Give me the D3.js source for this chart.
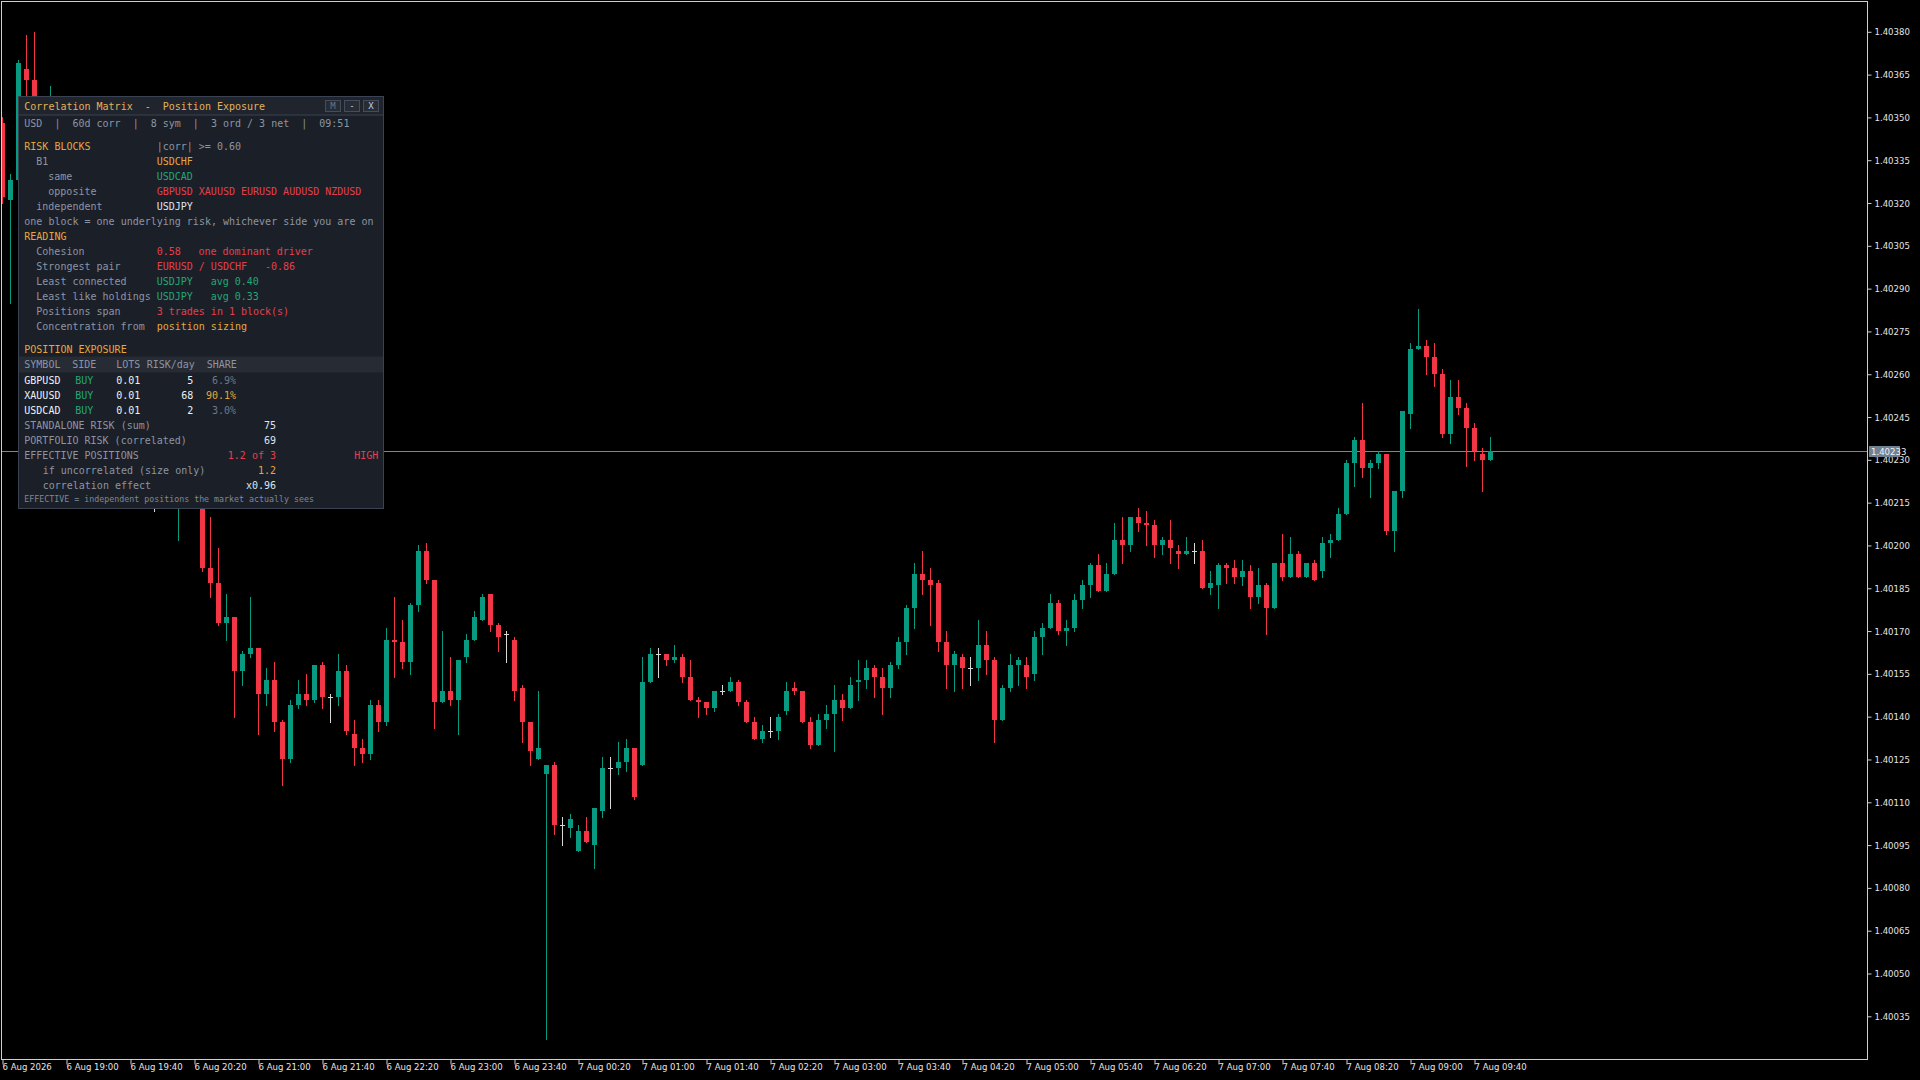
<!DOCTYPE html>
<html>
<head>
<meta charset="utf-8">
<script src="https://cdn.jsdelivr.net/npm/d3@7"></script>
<style>
  body { margin: 0; background: #000; }
  svg { display: block; }
  .mono { font-family: "DejaVu Sans Mono", "Liberation Mono", monospace; white-space: pre; }
  .axis text { font-family: "Liberation Sans Narrow", "DejaVu Sans Condensed", "Liberation Sans", sans-serif; }
</style>
</head>
<body>
<script>
// 5 minute candles, 6 Aug 18:20 -> 7 Aug 09:50
var opens = [1.40348,1.40321,1.40328,1.40367,1.40363,1.40335,1.40322,1.40345,1.40330,1.40310,
  1.40300,1.40312,1.40288,1.40276,1.40285,1.40262,1.40250,1.40262,1.40240,1.40222,
  1.40222,1.40216,1.40228,1.40240,1.40226,1.40219,1.40192,1.40187,1.40173,1.40175,
  1.40156,1.40162,1.40164,1.40148,1.40153,1.40138,1.40125,1.40144,1.40148,1.40146,
  1.40158,1.40147,1.40147,1.40156,1.40134,1.40129,1.40127,1.40144,1.40138,1.40167,
  1.40166,1.40159,1.40179,1.40198,1.40188,1.40145,1.40149,1.40146,1.40161,1.40167,
  1.40174,1.40183,1.40172,1.40169,1.40167,1.40150,1.40138,1.40125,1.40120,1.40123,
  1.40102,1.40101,1.40093,1.40100,1.40095,1.40107,1.40122,1.40122,1.40124,1.40129,
  1.40123,1.40152,1.40162,1.40162,1.40160,1.40161,1.40154,1.40146,1.40145,1.40143,
  1.40149,1.40149,1.40152,1.40145,1.40138,1.40132,1.40135,1.40135,1.40142,1.40150,
  1.40149,1.40138,1.40130,1.40139,1.40141,1.40146,1.40143,1.40152,1.40153,1.40157,
  1.40154,1.40150,1.40158,1.40166,1.40178,1.40190,1.40188,1.40187,1.40166,1.40158,
  1.40161,1.40157,1.40157,1.40165,1.40160,1.40139,1.40150,1.40158,1.40158,1.40155,
  1.40168,1.40171,1.40180,1.40170,1.40171,1.40181,1.40186,1.40193,1.40184,1.40190,
  1.40202,1.40200,1.40210,1.40208,1.40207,1.40200,1.40202,1.40198,1.40197,1.40198,
  1.40198,1.40185,1.40186,1.40193,1.40192,1.40189,1.40191,1.40182,1.40186,1.40178,
  1.40194,1.40189,1.40197,1.40189,1.40194,1.40191,1.40201,1.40202,1.40211,1.40229,
  1.40237,1.40227,1.40229,1.40232,1.40205,1.40219,1.40246,1.40269,1.40270,1.40266,
  1.40260,1.40239,1.40252,1.40248,1.40241,1.40232,1.40230];
var highs = [1.40350,1.40330,1.40370,1.40379,1.40380,1.40340,1.40361,1.40350,1.40336,1.40318,
  1.40316,1.40315,1.40292,1.40290,1.40288,1.40266,1.40268,1.40264,1.40245,1.40228,
  1.40226,1.40232,1.40245,1.40244,1.40230,1.40224,1.40210,1.40199,1.40183,1.40175,
  1.40163,1.40182,1.40164,1.40157,1.40159,1.40139,1.40146,1.40153,1.40155,1.40158,
  1.40159,1.40148,1.40162,1.40158,1.40139,1.40132,1.40146,1.40146,1.40171,1.40182,
  1.40174,1.40180,1.40200,1.40201,1.40188,1.40170,1.40161,1.40160,1.40169,1.40177,
  1.40183,1.40183,1.40173,1.40170,1.40168,1.40151,1.40138,1.40149,1.40123,1.40124,
  1.40105,1.40106,1.40102,1.40105,1.40108,1.40126,1.40126,1.40131,1.40132,1.40129,
  1.40161,1.40164,1.40164,1.40162,1.40165,1.40162,1.40160,1.40147,1.40145,1.40149,
  1.40151,1.40154,1.40153,1.40146,1.40140,1.40137,1.40140,1.40141,1.40152,1.40152,
  1.40149,1.40140,1.40141,1.40144,1.40151,1.40148,1.40154,1.40160,1.40160,1.40158,
  1.40157,1.40159,1.40168,1.40179,1.40194,1.40198,1.40192,1.40188,1.40170,1.40163,
  1.40162,1.40161,1.40174,1.40170,1.40161,1.40151,1.40162,1.40161,1.40161,1.40170,
  1.40173,1.40183,1.40181,1.40174,1.40183,1.40188,1.40194,1.40197,1.40194,1.40208,
  1.40210,1.40210,1.40213,1.40212,1.40209,1.40203,1.40209,1.40200,1.40203,1.40201,
  1.40202,1.40191,1.40194,1.40194,1.40195,1.40195,1.40193,1.40192,1.40187,1.40194,
  1.40204,1.40203,1.40198,1.40194,1.40195,1.40203,1.40204,1.40213,1.40230,1.40238,
  1.40250,1.40230,1.40233,1.40232,1.40219,1.40247,1.40271,1.40283,1.40272,1.40271,
  1.40262,1.40258,1.40258,1.40250,1.40243,1.40234,1.40238];
var lows = [1.40320,1.40285,1.40320,1.40352,1.40330,1.40318,1.40318,1.40325,1.40305,1.40296,
  1.40295,1.40284,1.40270,1.40272,1.40258,1.40245,1.40246,1.40238,1.40225,1.40212,
  1.40215,1.40214,1.40202,1.40222,1.40216,1.40191,1.40182,1.40172,1.40167,1.40140,
  1.40151,1.40161,1.40134,1.40144,1.40135,1.40116,1.40124,1.40143,1.40144,1.40145,
  1.40143,1.40138,1.40144,1.40134,1.40123,1.40124,1.40125,1.40135,1.40137,1.40154,
  1.40157,1.40155,1.40177,1.40187,1.40136,1.40145,1.40144,1.40134,1.40159,1.40167,
  1.40174,1.40170,1.40163,1.40159,1.40146,1.40131,1.40123,1.40125,1.40027,1.40099,
  1.40095,1.40098,1.40093,1.40096,1.40087,1.40105,1.40108,1.40120,1.40121,1.40111,
  1.40123,1.40152,1.40154,1.40158,1.40159,1.40152,1.40146,1.40140,1.40141,1.40142,
  1.40148,1.40149,1.40144,1.40138,1.40132,1.40131,1.40133,1.40132,1.40141,1.40148,
  1.40138,1.40129,1.40130,1.40136,1.40128,1.40139,1.40143,1.40146,1.40150,1.40147,
  1.40141,1.40147,1.40157,1.40162,1.40171,1.40183,1.40172,1.40163,1.40150,1.40149,
  1.40150,1.40151,1.40153,1.40155,1.40131,1.40139,1.40149,1.40151,1.40150,1.40153,
  1.40162,1.40171,1.40169,1.40165,1.40170,1.40178,1.40182,1.40184,1.40184,1.40190,
  1.40194,1.40198,1.40205,1.40200,1.40196,1.40197,1.40194,1.40192,1.40197,1.40194,
  1.40185,1.40183,1.40178,1.40187,1.40187,1.40186,1.40178,1.40180,1.40169,1.40178,
  1.40188,1.40189,1.40189,1.40189,1.40188,1.40189,1.40196,1.40202,1.40211,1.40221,
  1.40224,1.40217,1.40227,1.40204,1.40198,1.40217,1.40241,1.40269,1.40260,1.40256,
  1.40238,1.40236,1.40246,1.40228,1.40230,1.40219,1.40230];
var closes = [1.40322,1.40328,1.40369,1.40363,1.40335,1.40322,1.40345,1.40330,1.40310,1.40300,
  1.40312,1.40288,1.40276,1.40285,1.40262,1.40250,1.40262,1.40240,1.40228,1.40222,
  1.40216,1.40230,1.40240,1.40226,1.40220,1.40192,1.40187,1.40173,1.40175,1.40156,
  1.40162,1.40164,1.40148,1.40153,1.40138,1.40125,1.40144,1.40148,1.40146,1.40158,
  1.40147,1.40147,1.40156,1.40135,1.40129,1.40127,1.40144,1.40138,1.40167,1.40166,
  1.40159,1.40179,1.40198,1.40188,1.40145,1.40149,1.40146,1.40160,1.40167,1.40175,
  1.40182,1.40172,1.40168,1.40169,1.40149,1.40138,1.40128,1.40129,1.40123,1.40102,
  1.40102,1.40104,1.40100,1.40096,1.40108,1.40122,1.40122,1.40124,1.40129,1.40112,
  1.40152,1.40162,1.40162,1.40160,1.40161,1.40154,1.40146,1.40145,1.40143,1.40149,
  1.40149,1.40152,1.40145,1.40138,1.40132,1.40135,1.40135,1.40140,1.40149,1.40149,
  1.40138,1.40130,1.40139,1.40141,1.40146,1.40143,1.40151,1.40153,1.40157,1.40154,
  1.40150,1.40158,1.40166,1.40178,1.40190,1.40188,1.40186,1.40166,1.40158,1.40162,
  1.40157,1.40157,1.40165,1.40160,1.40139,1.40150,1.40158,1.40160,1.40154,1.40168,
  1.40171,1.40180,1.40170,1.40171,1.40181,1.40186,1.40193,1.40184,1.40190,1.40202,
  1.40200,1.40210,1.40208,1.40207,1.40200,1.40202,1.40199,1.40197,1.40198,1.40198,
  1.40185,1.40187,1.40193,1.40192,1.40189,1.40191,1.40182,1.40186,1.40178,1.40194,
  1.40189,1.40197,1.40189,1.40194,1.40188,1.40201,1.40202,1.40211,1.40229,1.40237,
  1.40227,1.40229,1.40232,1.40205,1.40219,1.40247,1.40269,1.40270,1.40266,1.40260,
  1.40239,1.40252,1.40248,1.40241,1.40233,1.40230,1.40233];

var priceTicks = [1.40380,1.40365,1.40350,1.40335,1.40320,1.40305,1.40290,1.40275,1.40260,1.40245,
  1.40230,1.40215,1.40200,1.40185,1.40170,1.40155,1.40140,1.40125,1.40110,1.40095,
  1.40080,1.40065,1.40050,1.40035];
var timeTickIndex = [0,8,16,24,32,40,48,56,64,72,80,88,96,104,112,120,128,136,144,152,160,168,176,184];
var timeLabels = ["6 Aug 2026","6 Aug 19:00","6 Aug 19:40","6 Aug 20:20","6 Aug 21:00","6 Aug 21:40",
  "6 Aug 22:20","6 Aug 23:00","6 Aug 23:40","7 Aug 00:20","7 Aug 01:00","7 Aug 01:40","7 Aug 02:20",
  "7 Aug 03:00","7 Aug 03:40","7 Aug 04:20","7 Aug 05:00","7 Aug 05:40","7 Aug 06:20","7 Aug 07:00",
  "7 Aug 07:40","7 Aug 08:20","7 Aug 09:00","7 Aug 09:40"];
var lastPrice = 1.40233;

// panel content
var infoLine = "USD  |  60d corr  |  8 sym  |  3 ord / 3 net  |  09:51";
var blockOpposite = ["GBPUSD", "XAUUSD", "EURUSD", "AUDUSD", "NZDUSD"];
var expSymbols = ["GBPUSD", "XAUUSD", "USDCAD"];
var expSides = ["BUY", "BUY", "BUY"];
var expLots = ["0.01", "0.01", "0.01"];
var expRisk = [5, 68, 2];
var expShare = ["6.9%", "90.1%", "3.0%"];

var W = 1920, H = 1080;
var plotL = 2, plotR = 1867, plotT = 2, plotB = 1059;

var colUp = "#089981", colDown = "#f23645", colDoji = "#d9d9d9";
var cGold = "#e6a83c", cGray = "#8b95a5", cGreen = "#22a878", cRed = "#e5404d", cWhite = "#dfe5ec";

var svg = d3.select("body").append("svg")
    .attr("width", W)
    .attr("height", H)
    .style("background", "#000");

var x = d3.scaleLinear().domain([0, 186]).range([2.5, 1490.5]);
var y = d3.scaleLinear().domain([1.40380, 1.40035]).range([31.8, 1016.3]);

svg.append("clipPath").attr("id", "plotclip")
  .append("rect").attr("x", plotL).attr("y", plotT)
    .attr("width", plotR - plotL).attr("height", plotB - plotT);

var plot = svg.append("g").attr("clip-path", "url(#plotclip)");

// current price line
plot.append("line")
    .attr("x1", plotL).attr("x2", plotR)
    .attr("y1", Math.round(y(lastPrice)) + 0.5)
    .attr("y2", Math.round(y(lastPrice)) + 0.5)
    .attr("stroke", "#76889a")
    .attr("stroke-width", 1);

var idx = d3.range(opens.length);
function candleColor(i) {
  if (opens[i] === closes[i]) return colDoji;
  return closes[i] > opens[i] ? colUp : colDown;
}

plot.selectAll("line.wick")
  .data(idx)
  .join("line")
    .attr("class", "wick")
    .attr("x1", function(i) { return x(i); })
    .attr("x2", function(i) { return x(i); })
    .attr("y1", function(i) { return Math.round(y(highs[i])); })
    .attr("y2", function(i) { return Math.round(y(lows[i])) + 1; })
    .attr("stroke", candleColor)
    .attr("stroke-width", 1);

plot.selectAll("rect.body")
  .data(idx)
  .join("rect")
    .attr("class", "body")
    .attr("x", function(i) { return x(i) - 2.5; })
    .attr("width", 5)
    .attr("y", function(i) { return Math.round(y(Math.max(opens[i], closes[i]))); })
    .attr("height", function(i) {
      var t = Math.round(y(Math.max(opens[i], closes[i])));
      var b = Math.round(y(Math.min(opens[i], closes[i])));
      return Math.max(1, b - t);
    })
    .attr("fill", candleColor);

// frame
svg.append("rect")
    .attr("x", plotL - 0.5).attr("y", plotT - 0.5)
    .attr("width", plotR - plotL + 1).attr("height", plotB - plotT + 1)
    .attr("fill", "none")
    .attr("stroke", "#cfcfcf")
    .attr("stroke-width", 1);

// price axis
var yAxis = svg.append("g")
    .attr("class", "axis")
    .attr("transform", "translate(" + (plotR + 0.5) + ",0)")
    .call(d3.axisRight(y).tickValues(priceTicks).tickSize(4).tickPadding(3).tickFormat(d3.format(".5f")));
yAxis.select(".domain").remove();
yAxis.selectAll(".tick line").attr("stroke", "#cfcfcf");
yAxis.selectAll(".tick text").attr("fill", "#e4e4e4").style("font-size", "9.5px");

// current price label
var lp = svg.append("g").attr("transform", "translate(1869," + Math.round(y(lastPrice)) + ")");
lp.append("rect").attr("x", 0).attr("y", -5).attr("width", 31).attr("height", 11).attr("fill", "#6f8193");
lp.append("text").attr("class", "axis").attr("x", 2).attr("y", 0.5)
    .attr("dy", "0.35em")
    .attr("fill", "#f2f2f2")
    .style("font-family", "'Liberation Sans Narrow', 'DejaVu Sans Condensed', sans-serif")
    .style("font-size", "9.5px")
    .text(d3.format(".5f")(lastPrice));

// time axis
var xAxis = svg.append("g")
    .attr("class", "axis")
    .attr("transform", "translate(0," + (plotB + 0.5) + ")")
    .call(d3.axisBottom(x).tickValues(timeTickIndex).tickSize(5)
      .tickFormat(function(d, i) { return timeLabels[i]; }));
xAxis.select(".domain").remove();
xAxis.selectAll(".tick line").attr("stroke", "#cfcfcf");
xAxis.selectAll(".tick text")
    .attr("fill", "#e4e4e4")
    .attr("text-anchor", "start")
    .attr("x", -0.5)
    .attr("y", 4)
    .style("font-size", "9.5px");

// ---- info panel ----
var px = 18.5, py = 96.5, pw = 365, ph = 412;
var panel = svg.append("g");
panel.append("rect").attr("x", px).attr("y", py).attr("width", pw).attr("height", ph)
    .attr("fill", "#1b1f27").attr("stroke", "#3b4352");
panel.append("rect").attr("x", px).attr("y", py).attr("width", pw).attr("height", 18.5)
    .attr("fill", "#1f242d").attr("stroke", "#3b4352");

function ptext(tx, ty, str, color, size, anchor) {
  return panel.append("text")
      .attr("class", "mono")
      .attr("x", tx).attr("y", ty)
      .attr("dy", "0.35em")
      .attr("fill", color)
      .attr("text-anchor", anchor || "start")
      .style("font-size", (size || 10) + "px")
      .text(str);
}

ptext(24.3, 106.5, "Correlation Matrix  -  Position Exposure", "#e3b25a");

// title buttons
[["M", 325.5, "#6c7482"], ["-", 344.5, "#c9d1db"], ["X", 363.5, "#c9d1db"]].forEach(function(b) {
  panel.append("rect").attr("x", b[1]).attr("y", 100.5).attr("width", 15).attr("height", 11)
      .attr("fill", "#272c35").attr("stroke", "#454d5b");
  ptext(b[1] + 7.5, 106.3, b[0], b[2], 9, "middle");
});

ptext(24.3, 123.3, infoLine, cGray);

var c0 = 24.3, c1 = 36.3, c2 = 48.3, cv = 156.7;
ptext(c0, 146.7, "RISK BLOCKS", cGold);
ptext(cv, 146.7, "|corr| >= 0.60", cGray);
ptext(c1, 161.7, "B1", cGray);
ptext(cv, 161.7, "USDCHF", cGold);
ptext(c2, 176.5, "same", cGray);
ptext(cv, 176.5, "USDCAD", cGreen);
ptext(c2, 191.3, "opposite", cGray);
ptext(cv, 191.3, blockOpposite.join(" "), cRed);
ptext(c1, 206.2, "independent", cGray);
ptext(cv, 206.2, "USDJPY", cWhite);
ptext(c0, 221.1, "one block = one underlying risk, whichever side you are on", cGray);
ptext(c0, 236, "READING", cGold);
ptext(c1, 251.3, "Cohesion", cGray);
ptext(cv, 251.3, "0.58", cRed);
ptext(198.5, 251.3, "one dominant driver", cRed);
ptext(c1, 266.3, "Strongest pair", cGray);
ptext(cv, 266.3, "EURUSD / USDCHF", cRed);
ptext(265, 266.3, "-0.86", cRed);
ptext(c1, 281.3, "Least connected", cGray);
ptext(cv, 281.3, "USDJPY", cGreen);
ptext(210.7, 281.3, "avg 0.40", cGreen);
ptext(c1, 296.3, "Least like holdings", cGray);
ptext(cv, 296.3, "USDJPY", cGreen);
ptext(210.7, 296.3, "avg 0.33", cGreen);
ptext(c1, 311.3, "Positions span", cGray);
ptext(cv, 311.3, "3 trades in 1 block(s)", cRed);
ptext(c1, 326.3, "Concentration from", cGray);
ptext(cv, 326.3, "position sizing", cGold);

ptext(c0, 349.3, "POSITION EXPOSURE", cGold);
panel.append("rect").attr("x", px + 0.5).attr("y", 356.5).attr("width", pw - 1).attr("height", 16)
    .attr("fill", "#262b34");
ptext(c0, 364.7, "SYMBOL", cGray);
ptext(72.3, 364.7, "SIDE", cGray);
ptext(116.3, 364.7, "LOTS", cGray);
ptext(146.7, 364.7, "RISK/day", cGray);
ptext(206.7, 364.7, "SHARE", cGray);

expSymbols.forEach(function(s, i) {
  var ry = 380.3 + i * 15;
  ptext(c0, ry, s, "#eef2f6");
  ptext(75.3, ry, expSides[i], cGreen);
  ptext(116.3, ry, expLots[i], "#eef2f6");
  ptext(193.3, ry, String(expRisk[i]), "#eef2f6", 10, "end");
  ptext(236, ry, expShare[i], i === 1 ? cGold : "#6f7886", 10, "end");
});

ptext(c0, 425.3, "STANDALONE RISK (sum)", cGray);
ptext(276, 425.3, String(d3.sum(expRisk)), cWhite, 10, "end");
ptext(c0, 440.3, "PORTFOLIO RISK (correlated)", cGray);
ptext(276, 440.3, "69", cWhite, 10, "end");
ptext(c0, 455.3, "EFFECTIVE POSITIONS", cGray);
ptext(276, 455.3, "1.2 of 3", cRed, 10, "end");
ptext(378.3, 455.3, "HIGH", cRed, 10, "end");
ptext(42.7, 470.3, "if uncorrelated (size only)", cGray);
ptext(276, 470.3, "1.2", cGold, 10, "end");
ptext(42.7, 485.3, "correlation effect", cGray);
ptext(276, 485.3, "x0.96", cWhite, 10, "end");
ptext(c0, 499.5, "EFFECTIVE = independent positions the market actually sees", "#7f8898", 8.3);
</script>
</body>
</html>
